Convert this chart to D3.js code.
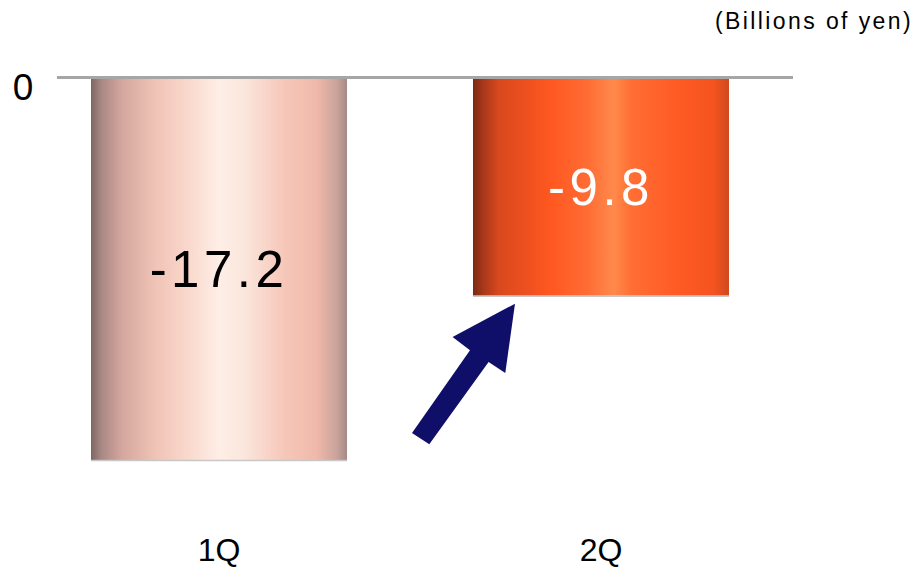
<!DOCTYPE html>
<html>
<head>
<meta charset="utf-8">
<script src="https://cdn.jsdelivr.net/npm/d3@7"></script>
<style>
  html, body { margin: 0; padding: 0; background: #fff; }
  svg { display: block; font-family: "Liberation Sans", Arial, sans-serif; }
</style>
</head>
<body>
<svg id="chart" width="918" height="567"></svg>
<script>
// Quarterly result (billions of yen)
const quarters = ["1Q", "2Q"];
const values = [-17.2, -9.8];
const valueLabels = ["-17.2", "-9.8"];
const unitLabel = "(Billions of yen)";
const zeroLabel = "0";

const svg = d3.select("#chart");
const defs = svg.append("defs");

// Cylinder-style shading for each bar
const shades = [
  [[0, "#7d6663"], [0.04, "#a98884"], [0.12, "#d4a69d"], [0.25, "#f0c3b6"], [0.4, "#fbdcd0"],
   [0.5, "#fdeee6"], [0.6, "#fbe6dc"], [0.75, "#f6c8ba"], [0.88, "#f0b9aa"], [0.96, "#c9a39b"], [1, "#a58a86"]],
  [[0, "#7a2a12"], [0.04, "#a7381a"], [0.1, "#d9481e"], [0.3, "#ff5720"], [0.45, "#ff6d34"],
   [0.55, "#ff8a4c"], [0.62, "#ff6e34"], [0.8, "#ff5a24"], [0.94, "#f4541f"], [1, "#cf4a1e"]]
];
shades.forEach((stops, i) => {
  const g = defs.append("linearGradient")
    .attr("id", "barShade" + i)
    .attr("x1", "0%").attr("x2", "100%").attr("y1", "0%").attr("y2", "0%");
  stops.forEach(([o, c]) => g.append("stop").attr("offset", o).attr("stop-color", c));
});

const x = d3.scaleBand()
  .domain(quarters)
  .range([91, 729])
  .paddingInner(0.3298)
  .paddingOuter(0);

const y = d3.scaleLinear()
  .domain([0, -17.2])
  .range([78, 460]);

// Bars
const bars = svg.append("g").selectAll("g")
  .data(quarters.map((q, i) => ({ q, v: values[i], label: valueLabels[i], i })))
  .join("g");

bars.append("rect")
  .attr("x", d => x(d.q))
  .attr("y", y(0))
  .attr("width", x.bandwidth())
  .attr("height", d => y(d.v) - y(0))
  .attr("fill", d => `url(#barShade${d.i})`);

// soft bottom edge
bars.append("line")
  .attr("x1", d => x(d.q))
  .attr("x2", d => x(d.q) + x.bandwidth())
  .attr("y1", d => y(d.v) + 0.5)
  .attr("y2", d => y(d.v) + 0.5)
  .attr("stroke", "#c8c8c8")
  .attr("stroke-width", 1.5);

// Value labels centred inside bars
bars.append("text")
  .attr("x", d => x(d.q) + x.bandwidth() / 2)
  .attr("y", d => (y(0) + y(d.v)) / 2)
  .attr("dy", "0.36em")
  .attr("text-anchor", "middle")
  .attr("font-size", 51)
  .attr("letter-spacing", 4.5)
  .attr("fill", d => d.i === 0 ? "#000" : "#fff")
  .text(d => d.label);

// Zero line
svg.append("line")
  .attr("x1", 57).attr("x2", 793)
  .attr("y1", y(0) - 0.5).attr("y2", y(0) - 0.5)
  .attr("stroke", "#a6a6a6")
  .attr("stroke-width", 3);

// Zero tick label
svg.append("text")
  .attr("x", 23).attr("y", y(0) + 22)
  .attr("text-anchor", "middle")
  .attr("font-size", 37)
  .attr("fill", "#000")
  .text(zeroLabel);

// Category labels
svg.append("g").selectAll("text")
  .data(quarters)
  .join("text")
  .attr("x", d => x(d) + x.bandwidth() / 2)
  .attr("y", 561)
  .attr("text-anchor", "middle")
  .attr("font-size", 32)
  .attr("fill", "#000")
  .text(d => d);

// Unit label
svg.append("text")
  .attr("x", 913).attr("y", 29)
  .attr("text-anchor", "end")
  .attr("font-size", 23)
  .attr("letter-spacing", 2.4)
  .attr("fill", "#000")
  .text(unitLabel);

// Improvement arrow pointing at the 2Q bar
const tipX = x("2Q") + 42, tipY = y(values[1]) + 8;
const arrowPts = [[0, 0], [-62.4, 33.4], [-45, 46.7], [-103, 129.4], [-85.7, 140.7], [-26.4, 58.4], [-9.7, 69.4]];
svg.append("path")
  .attr("d", d3.line()(arrowPts.map(([dx, dy]) => [tipX + dx, tipY + dy])) + "Z")
  .attr("fill", "#0f0f6a");
</script>
</body>
</html>
